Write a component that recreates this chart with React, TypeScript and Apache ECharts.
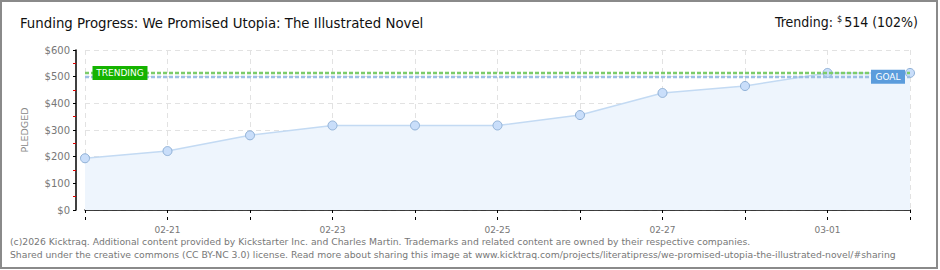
import React, { useEffect, useRef } from 'react';
import * as echarts from 'echarts';

const dates = ['02-20', '02-21', '02-22', '02-23', '02-24', '02-25', '02-26', '02-27', '02-28', '03-01', '03-02'];
const pledged = [194, 221, 280, 317, 317, 317, 356, 439, 465, 514, 514];
const trendValue = 514;
const goalValue = 500;
const trendPercent = 102;
const yMin = 0;
const yMax = 600;
const yInterval = 100;

const titleText = 'Funding Progress: We Promised Utopia: The Illustrated Novel';
const footer1 = '(c)2026 Kicktraq. Additional content provided by Kickstarter Inc. and Charles Martin. Trademarks and related content are owned by their respective companies.';
const footer2 = 'Shared under the creative commons (CC BY-NC 3.0) license. Read more about sharing this image at www.kicktraq.com/projects/literatipress/we-promised-utopia-the-illustrated-novel/#sharing';

export default function App() {
  const ref = useRef<HTMLDivElement>(null);
  useEffect(() => {
    if (!ref.current) return;
    const chart = echarts.init(ref.current, null, { renderer: 'svg' });
    const pixelFont = 'DejaVu Sans';
    chart.setOption({
      animation: false,
      backgroundColor: '#ffffff',
      grid: { left: 85, right: 30, top: 50, bottom: 60, containLabel: false },
      graphic: [
        {
          type: 'rect',
          shape: { x: 1, y: 1, width: 936, height: 267 },
          style: { fill: 'none', stroke: '#8a8a8a', lineWidth: 2 },
          z: 100,
        },
        {
          type: 'text',
          left: 20,
          top: 15,
          style: { text: titleText, fontFamily: 'DejaVu Sans Condensed', fontSize: 14.8, fill: '#111' },
        },
        {
          type: 'text',
          right: 22,
          top: 14,
          style: {
            text: '{a|Trending: }{s|$}{a|' + trendValue + ' (' + trendPercent + '%)}',
            rich: {
              a: { fontFamily: 'DejaVu Sans Condensed', fontSize: 14, fill: '#111', verticalAlign: 'bottom' },
              s: { fontFamily: 'DejaVu Sans Condensed', fontSize: 9, fill: '#111', verticalAlign: 'top', padding: [0, 2, 6, 0] },
            },
          },
        },
        {
          type: 'text',
          left: 10,
          top: 237,
          style: { text: footer1, fontFamily: 'DejaVu Sans', fontSize: 9.25, fill: '#777' },
        },
        {
          type: 'text',
          left: 10,
          top: 250,
          style: { text: footer2, fontFamily: 'DejaVu Sans', fontSize: 9.25, fill: '#777' },
        },
        {
          type: 'text',
          left: 845,
          top: 135,
          style: { text: 'K', fontFamily: 'serif', fontStyle: 'italic', fontSize: 70, fill: 'rgba(0,0,0,0.035)' },
        },
      ],
      xAxis: [
        {
          type: 'category',
          data: dates,
          boundaryGap: false,
          offset: 10,
          axisLine: { show: true, lineStyle: { color: '#000', width: 1.5 } },
          axisTick: { show: true, interval: 0, length: 3, lineStyle: { color: '#000' } },
          axisLabel: {
            interval: (i: number) => i % 2 === 1,
            color: '#777',
            fontFamily: pixelFont,
            fontSize: 9,
            margin: 5,
          },
          splitLine: { show: true, interval: 0, lineStyle: { color: '#e2e2e2', type: [5, 4] } },
        },
        {
          type: 'category',
          data: dates,
          boundaryGap: false,
          offset: 10,
          position: 'bottom',
          axisLine: { show: false },
          axisTick: { show: true, inside: true, interval: 0, length: 3, lineStyle: { color: '#000' } },
          axisLabel: { show: false },
          splitLine: { show: false },
        },
      ],
      yAxis: {
        type: 'value',
        min: yMin,
        max: yMax,
        interval: yInterval,
        offset: 9,
        name: 'PLEDGED',
        nameLocation: 'middle',
        nameGap: 47,
        nameRotate: 90,
        nameTextStyle: { color: '#888', fontFamily: pixelFont, fontSize: 9.5 },
        axisLine: { show: true, lineStyle: { color: '#000', width: 1.5 } },
        axisTick: { show: true, length: 3, lineStyle: { color: '#000' } },
        minorTick: { show: true, splitNumber: 2, length: 3, lineStyle: { color: '#e00000' } },
        axisLabel: { color: '#777', fontFamily: pixelFont, fontSize: 10, margin: 6, formatter: '${value}' },
        splitLine: { show: true, lineStyle: { color: '#e2e2e2', type: [5, 4] } },
      },
      series: [
        {
          type: 'line',
          data: pledged,
          xAxisIndex: 0,
          symbol: 'circle',
          symbolSize: 9,
          lineStyle: { color: '#c3daf3', width: 1.5 },
          itemStyle: { color: '#c9defa', borderColor: '#8fb0d6', borderWidth: 1 },
          areaStyle: { color: '#eef5fd', opacity: 1 },
          z: 2,
          markLine: {
            silent: true,
            symbol: 'none',
            label: { show: false },
            data: [
              { yAxis: trendValue, lineStyle: { color: '#7ccc6a', type: [4, 2], width: 2.4 } },
              { yAxis: goalValue, lineStyle: { color: '#9cbfe4', type: [4, 2], width: 2.4 } },
            ],
          },
          markPoint: {
            silent: true,
            data: [
              {
                coord: [dates[0], trendValue],
                symbol: 'rect',
                symbolSize: [55, 14],
                symbolOffset: [35, 0],
                itemStyle: { color: '#15b300' },
                label: { show: true, formatter: 'TRENDING', color: '#fff', fontFamily: pixelFont, fontSize: 9 },
              },
              {
                coord: [dates[dates.length - 1], goalValue],
                symbol: 'rect',
                symbolSize: [34, 14],
                symbolOffset: [-22, 0],
                itemStyle: { color: '#5b9cdc' },
                label: { show: true, formatter: 'GOAL', color: '#fff', fontFamily: pixelFont, fontSize: 9 },
              },
            ],
          },
        },
      ],
    });
    return () => chart.dispose();
  }, []);
  return <div ref={ref} style={{ position: 'absolute', left: 0, top: 0, width: 940, height: 270 }} />;
}
